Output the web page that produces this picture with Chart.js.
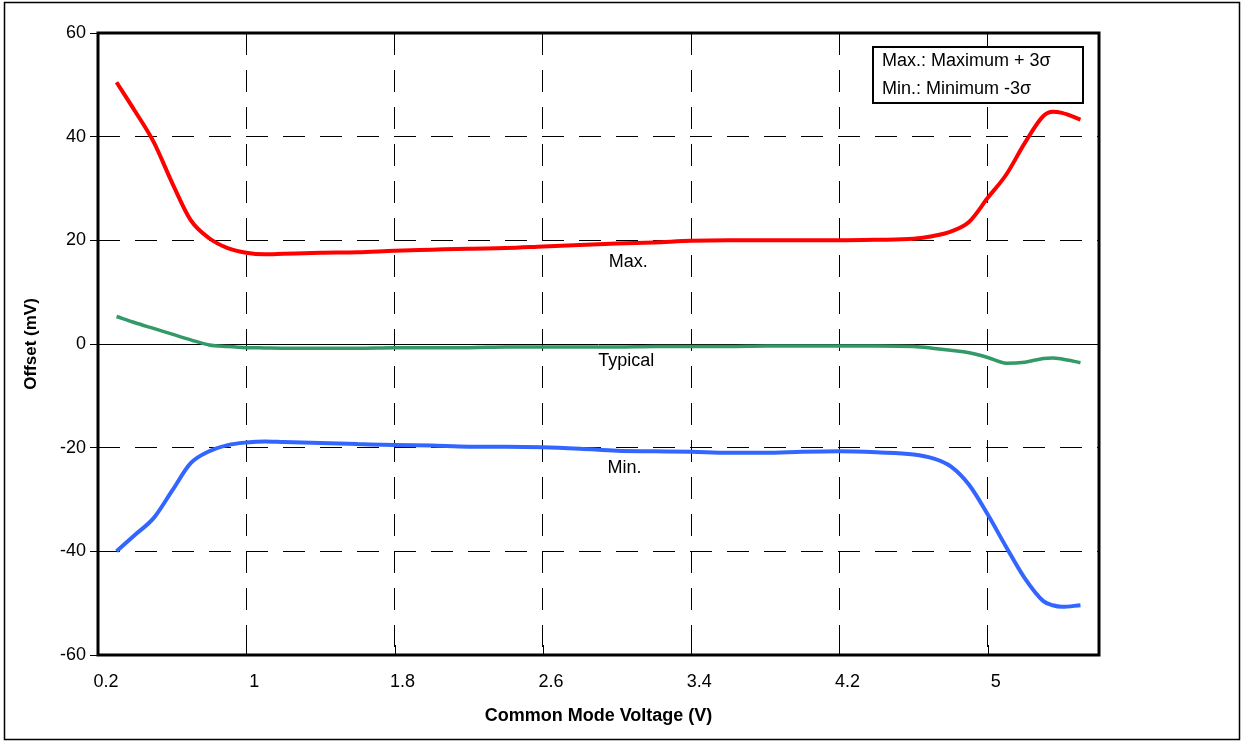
<!DOCTYPE html>
<html>
<head>
<meta charset="utf-8">
<script src="https://cdn.jsdelivr.net/npm/chart.js@4.4.1/dist/chart.umd.min.js"></script>
<style>
  html, body { margin: 0; padding: 0; background: #fff; }
  #wrap { position: relative; width: 1244px; height: 742px; }
</style>
</head>
<body>
<div id="wrap"><canvas id="offset"></canvas></div>
<script>
// common mode voltage (V)
var xValues = [0.3, 0.4, 0.5, 0.6, 0.7, 0.8, 0.9, 1.0, 1.1, 1.2, 1.4, 1.6, 1.8, 2.0, 2.2, 2.4, 2.6, 2.8, 3.0, 3.2, 3.4, 3.6, 3.8, 4.0, 4.2, 4.4, 4.6, 4.7, 4.8, 4.9, 5.0, 5.1, 5.2, 5.3, 5.35, 5.4, 5.5];
// offset (mV)
var maxValues = [50.5, 44.9, 39.0, 31.1, 23.9, 20.4, 18.5, 17.6, 17.3, 17.4, 17.6, 17.7, 18.0, 18.2, 18.4, 18.5, 18.8, 19.1, 19.4, 19.6, 19.9, 20.0, 20.0, 20.0, 20.0, 20.1, 20.3, 20.8, 21.7, 23.6, 28.2, 32.7, 38.8, 44.0, 44.8, 44.6, 43.3];
var typicalValues = [5.3, 4.1, 3.0, 1.9, 0.8, -0.2, -0.5, -0.7, -0.75, -0.8, -0.8, -0.8, -0.7, -0.7, -0.7, -0.6, -0.6, -0.6, -0.6, -0.5, -0.5, -0.5, -0.4, -0.4, -0.4, -0.4, -0.5, -0.8, -1.2, -1.7, -2.6, -3.7, -3.5, -2.8, -2.7, -2.9, -3.6];
var minValues = [-40.0, -36.8, -33.6, -28.3, -23.0, -20.7, -19.5, -19.0, -18.8, -18.9, -19.1, -19.3, -19.5, -19.6, -19.8, -19.8, -19.9, -20.2, -20.6, -20.7, -20.8, -21.0, -21.0, -20.8, -20.7, -20.9, -21.3, -22.0, -23.6, -27.2, -32.9, -39.2, -45.2, -49.6, -50.4, -50.7, -50.4];
var xTicks = [0.2, 1, 1.8, 2.6, 3.4, 4.2, 5];
var seriesLabels = ["Max.", "Typical", "Min."];
var legendLines = ["Max.: Maximum + 3\u03c3", "Min.: Minimum -3\u03c3"];

var FONT = "'Liberation Sans', Arial, sans-serif";

function points(ys) {
    return xValues.map(function(x, i) { return {x: x, y: ys[i]}; });
}

// frame, inner x ticks, curve labels and the note box
var decorations = {
    id: "decorations",
    afterDraw: function(chart) {
        var ctx = chart.ctx;
        var a = chart.chartArea;
        var sx = chart.scales.x;
        var sy = chart.scales.y;
        ctx.save();

        // outer border of the figure
        ctx.strokeStyle = "#000";
        ctx.lineWidth = 1.5;
        ctx.strokeRect(4.5, 2.5, 1235, 737);

        // x tick marks pointing inside
        ctx.lineWidth = 1;
        xTicks.forEach(function(v) {
            var px = Math.round(sx.getPixelForValue(v)) + 0.5;
            ctx.beginPath();
            ctx.moveTo(px, a.bottom);
            ctx.lineTo(px, a.bottom - 10);
            ctx.stroke();
        });

        // plot frame
        ctx.lineWidth = 3;
        ctx.strokeRect(a.left, a.top, a.right - a.left, a.bottom - a.top);

        // curve labels
        ctx.fillStyle = "#000";
        ctx.font = "18px " + FONT;
        ctx.textAlign = "center";
        ctx.textBaseline = "middle";
        ctx.fillText(seriesLabels[0], sx.getPixelForValue(3.06), sy.getPixelForValue(15.8));
        ctx.fillText(seriesLabels[1], sx.getPixelForValue(3.05), sy.getPixelForValue(-3.3));
        ctx.fillText(seriesLabels[2], sx.getPixelForValue(3.04), sy.getPixelForValue(-23.9));

        // note box
        var bx = a.right - 226, by = a.top + 14, bw = 210, bh = 56;
        ctx.fillStyle = "#fff";
        ctx.fillRect(bx, by, bw, bh);
        ctx.lineWidth = 2;
        ctx.strokeRect(bx, by, bw, bh);
        ctx.fillStyle = "#000";
        ctx.textAlign = "left";
        ctx.fillText(legendLines[0], bx + 9, by + 14);
        ctx.fillText(legendLines[1], bx + 9, by + 42);

        ctx.restore();
    }
};

var chart = new Chart(document.getElementById("offset"), {
    type: "line",
    data: {
        datasets: [
            {
                label: seriesLabels[0],
                data: points(maxValues),
                borderColor: "#ff0000",
                borderWidth: 4,
                pointRadius: 0,
                cubicInterpolationMode: "monotone",
                fill: false
            },
            {
                label: seriesLabels[1],
                data: points(typicalValues),
                borderColor: "#339966",
                borderWidth: 3.5,
                pointRadius: 0,
                cubicInterpolationMode: "monotone",
                fill: false
            },
            {
                label: seriesLabels[2],
                data: points(minValues),
                borderColor: "#3366ff",
                borderWidth: 4,
                pointRadius: 0,
                cubicInterpolationMode: "monotone",
                fill: false
            }
        ]
    },
    options: {
        responsive: true,
        maintainAspectRatio: false,
        animation: false,
        layout: {padding: {left: 0, top: 33, right: 145, bottom: 0}},
        plugins: {
            legend: {display: false},
            tooltip: {enabled: false}
        },
        scales: {
            x: {
                type: "linear",
                min: 0.2,
                max: 5.6,
                afterBuildTicks: function(scale) {
                    scale.ticks = xTicks.map(function(v) { return {value: v}; });
                },
                afterFit: function(scale) { scale.height = 87; },
                grid: {
                    color: function(c) { return (c.tick && (c.tick.value === 0.2)) ? "rgba(0,0,0,0)" : "#000"; },
                    lineWidth: 1,
                    drawTicks: false
                },
                border: {display: false, dash: [22, 15]},
                ticks: {
                    color: "#000",
                    font: {family: FONT, size: 18},
                    padding: 16,
                    labelOffset: 8,
                    maxRotation: 0,
                    autoSkip: false,
                    callback: function(v) { return String(Math.round(v * 10) / 10); }
                },
                title: {
                    display: true,
                    text: "Common Mode Voltage (V)",
                    color: "#000",
                    font: {family: FONT, size: 18, weight: "bold"},
                    padding: {top: 0, bottom: 15}
                }
            },
            y: {
                min: -60,
                max: 60,
                afterFit: function(scale) { scale.width = 98; },
                ticks: {
                    stepSize: 20,
                    color: "#000",
                    font: {family: FONT, size: 18},
                    padding: 4
                },
                grid: {
                    color: "#000",
                    lineWidth: 1,
                    drawTicks: true,
                    tickLength: 8,
                    tickColor: "#000",
                    tickBorderDash: []
                },
                border: {
                    display: false,
                    dash: function(c) { return (c.tick && c.tick.value === 0) ? [] : [22, 15]; }
                },
                title: {
                    display: true,
                    text: "Offset (mV)",
                    color: "#000",
                    font: {family: FONT, size: 17, weight: "bold"},
                    padding: {top: 21, bottom: 0}
                }
            }
        }
    },
    plugins: [decorations]
});
</script>
</body>
</html>
